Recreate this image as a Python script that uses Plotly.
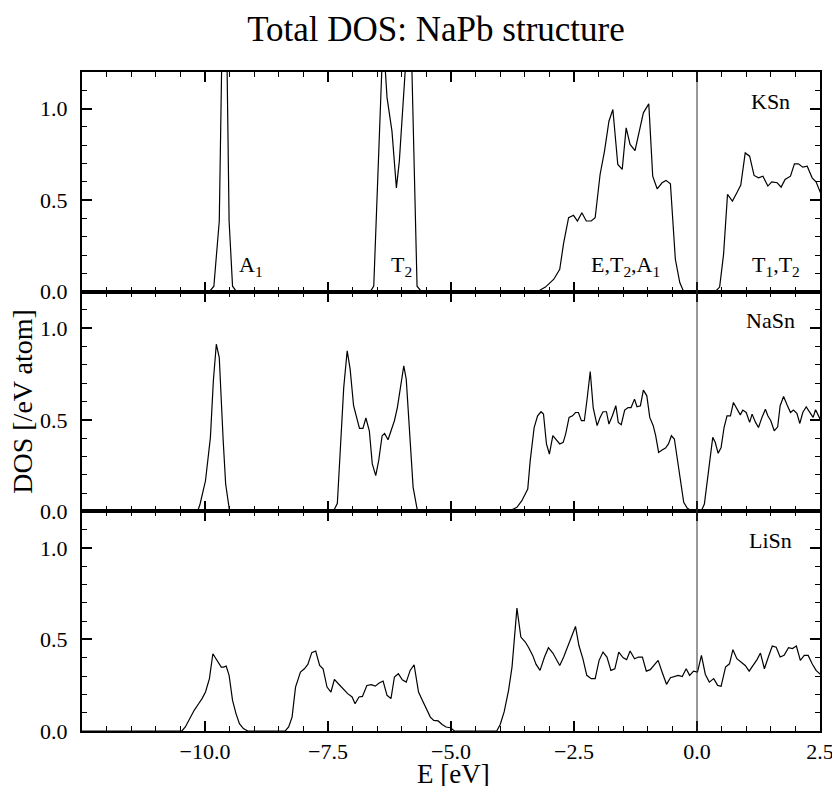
import plotly.graph_objects as go
from plotly.subplots import make_subplots

# ---------------- data ----------------
ksn_e = [-12.5, -9.91, -9.82, -9.71, -9.64, -9.57, -9.51, -9.44, -9.36,
         -6.64, -6.57, -6.38, -6.30, -6.20, -6.11, -6.05, -5.86, -5.82, -5.69, -5.60,
         -3.25, -3.08, -2.91, -2.79, -2.71, -2.61, -2.51, -2.43, -2.34, -2.25, -2.15, -2.07,
         -1.97, -1.88, -1.79, -1.71, -1.61, -1.52, -1.44, -1.36, -1.26, -1.17, -1.09, -0.98,
         -0.90, -0.81, -0.71, -0.63, -0.54, -0.44, -0.35, -0.27,
         0.37, 0.46, 0.54, 0.62, 0.72, 0.81, 0.89, 0.98, 1.07, 1.16, 1.25, 1.34, 1.44, 1.52,
         1.63, 1.71, 1.79, 1.90, 1.98, 2.06, 2.15, 2.24, 2.34, 2.42, 2.51]
ksn_d = [0, 0, 0.03, 0.385, 1.6, 1.6, 0.385, 0.03, 0,
         0, 0.03, 1.4, 1.06, 0.877, 0.567, 0.713, 1.5, 1.5, 0.03, 0,
         0, 0.025, 0.068, 0.122, 0.267, 0.404, 0.417, 0.386, 0.431, 0.386, 0.386, 0.404,
         0.64, 0.768, 0.931, 0.995, 0.695, 0.668, 0.895, 0.804, 0.771, 0.877, 0.977, 1.026,
         0.631, 0.562, 0.595, 0.608, 0.589, 0.177, 0.05, 0,
         0, 0.025, 0.204, 0.531, 0.495, 0.54, 0.582, 0.758, 0.74, 0.635, 0.622, 0.631, 0.577, 0.60,
         0.595, 0.571, 0.613, 0.631, 0.698, 0.698, 0.68, 0.685, 0.622, 0.60, 0.54]

nasn_e = [-12.5, -10.15, -10.10, -9.99, -9.89, -9.83, -9.77, -9.71, -9.63, -9.58, -9.50,
          -7.39, -7.31, -7.18, -7.11, -7.05, -6.98, -6.92, -6.86, -6.79, -6.73, -6.66, -6.60,
          -6.53, -6.47, -6.40, -6.35, -6.28, -6.22, -6.15, -6.09, -6.02, -5.96, -5.91, -5.84,
          -5.77, -5.68,
          -3.83, -3.66, -3.56, -3.44, -3.39, -3.31, -3.24, -3.17, -3.12, -3.06, -3.00, -2.93,
          -2.86, -2.79, -2.72, -2.67, -2.60, -2.53, -2.47, -2.41, -2.35, -2.29, -2.23, -2.17,
          -2.11, -2.03, -1.97, -1.91, -1.84, -1.79, -1.72, -1.65, -1.60, -1.54, -1.47, -1.40,
          -1.34, -1.27, -1.22, -1.15, -1.09, -1.02, -0.96, -0.89, -0.84, -0.78, -0.71, -0.64,
          -0.58, -0.52, -0.46, -0.39, -0.33, -0.27, -0.20, -0.10, 0.0, 0.09, 0.15, 0.24, 0.32,
          0.37, 0.43, 0.49, 0.55, 0.61, 0.68, 0.74, 0.81, 0.88, 0.93, 1.00, 1.07, 1.12, 1.19,
          1.25, 1.32, 1.39, 1.44, 1.50, 1.57, 1.64, 1.69, 1.76, 1.83, 1.90, 1.96, 2.03, 2.09,
          2.15, 2.22, 2.29, 2.36, 2.41, 2.47, 2.51]
nasn_d = [0, 0, 0.04, 0.167, 0.404, 0.713, 0.913, 0.84, 0.386, 0.149, 0,
          0, 0.044, 0.677, 0.877, 0.777, 0.577, 0.517, 0.453, 0.453, 0.51, 0.44, 0.259,
          0.195, 0.277, 0.413, 0.426, 0.391, 0.44, 0.495, 0.567, 0.704, 0.795, 0.722, 0.404,
          0.131, 0,
          0, 0.022, 0.058, 0.122, 0.277, 0.458, 0.522, 0.544, 0.531, 0.368, 0.313, 0.413,
          0.39, 0.368, 0.377, 0.422, 0.513, 0.522, 0.54, 0.54, 0.495, 0.495, 0.622, 0.764,
          0.567, 0.468, 0.513, 0.544, 0.544, 0.477, 0.522, 0.577, 0.486, 0.473, 0.553, 0.567,
          0.567, 0.613, 0.571, 0.577, 0.662, 0.631, 0.513, 0.468, 0.413, 0.322, 0.335, 0.346,
          0.368, 0.413, 0.395, 0.267, 0.131, 0.049, 0.018, 0, 0, 0.004, 0.04, 0.222, 0.404,
          0.377, 0.317, 0.349, 0.458, 0.522, 0.522, 0.595, 0.558, 0.527, 0.553, 0.54, 0.486, 0.531, 0.486,
          0.458, 0.513, 0.558, 0.522, 0.495, 0.44, 0.462, 0.577, 0.627, 0.582, 0.54, 0.553, 0.535, 0.48,
          0.54, 0.571, 0.54, 0.513, 0.555, 0.522, 0.499]

lisn_e = [-12.5, -10.47, -10.40, -10.31, -10.22, -10.13, -10.06, -9.99, -9.91, -9.84, -9.76,
          -9.67, -9.62, -9.57, -9.51, -9.44, -9.37, -9.30, -9.22, -9.13,
          -8.37, -8.30, -8.23, -8.16, -8.06, -7.98, -7.91, -7.83, -7.75, -7.67, -7.60, -7.52,
          -7.44, -7.37, -7.29, -7.20, -7.10, -7.01, -6.95, -6.87, -6.80, -6.71, -6.62, -6.54,
          -6.46, -6.38, -6.30, -6.22, -6.15, -6.07, -5.99, -5.91, -5.83, -5.75, -5.66, -5.58,
          -5.50, -5.42, -5.35, -5.26, -5.18, -5.10, -5.01, -4.93,
          -4.07, -4.00, -3.92, -3.83, -3.76, -3.71, -3.66, -3.58, -3.49, -3.42, -3.34, -3.27,
          -3.19, -3.10, -3.02, -2.93, -2.85, -2.79, -2.71, -2.63, -2.56, -2.47, -2.40, -2.32,
          -2.24, -2.15, -2.07, -1.99, -1.91, -1.83, -1.75, -1.67, -1.59, -1.50, -1.43, -1.36,
          -1.27, -1.19, -1.11, -1.03, -0.95, -0.87, -0.79, -0.71, -0.62, -0.54, -0.46, -0.38,
          -0.30, -0.22, -0.15, -0.07, 0.01, 0.09, 0.17, 0.25, 0.34, 0.42, 0.49, 0.58, 0.66,
          0.73, 0.81, 0.89, 0.98, 1.06, 1.14, 1.22, 1.29, 1.37, 1.45, 1.53, 1.61, 1.69, 1.77,
          1.86, 1.94, 2.02, 2.10, 2.18, 2.26, 2.34, 2.42, 2.51]
lisn_d = [0, 0, 0.022, 0.067, 0.113, 0.149, 0.177, 0.213, 0.286, 0.422, 0.39,
          0.349, 0.349, 0.355, 0.304, 0.167, 0.095, 0.04, 0.013, 0,
          0, 0.022, 0.076, 0.24, 0.322, 0.34, 0.364, 0.428, 0.437, 0.358, 0.34, 0.24,
          0.213, 0.282, 0.258, 0.231, 0.204, 0.186, 0.149, 0.186, 0.189, 0.249, 0.253, 0.245,
          0.262, 0.273, 0.195, 0.177, 0.295, 0.313, 0.28, 0.267, 0.331, 0.362, 0.213, 0.167,
          0.122, 0.076, 0.058, 0.055, 0.036, 0.022, 0.018, 0,
          0, 0.036, 0.104, 0.222, 0.349, 0.513, 0.671, 0.513, 0.486, 0.455, 0.413, 0.364,
          0.331, 0.404, 0.455, 0.426, 0.39, 0.358, 0.404, 0.458, 0.513, 0.571, 0.467, 0.395,
          0.304, 0.286, 0.286, 0.386, 0.431, 0.404, 0.331, 0.34, 0.431, 0.40, 0.39, 0.437,
          0.395, 0.404, 0.404, 0.327, 0.335, 0.358, 0.386, 0.322, 0.255, 0.291, 0.298, 0.304,
          0.298, 0.34, 0.304, 0.327, 0.322, 0.413, 0.309, 0.267, 0.286, 0.249, 0.244, 0.349, 0.367,
          0.444, 0.395, 0.377, 0.358, 0.327, 0.358, 0.39, 0.426, 0.34, 0.404, 0.464, 0.458, 0.404, 0.413,
          0.455, 0.45, 0.464, 0.386, 0.413, 0.413, 0.367, 0.331, 0.309]

panel_names = ["KSn", "NaSn", "LiSn"]
band_labels = ["A<sub>1</sub>", "T<sub>2</sub>", "E,T<sub>2</sub>,A<sub>1</sub>", "T<sub>1</sub>,T<sub>2</sub>"]
band_label_e = [-9.06, -6.0, -1.46, 1.61]
x_major_ticks = [-10.0, -7.5, -5.0, -2.5, 0.0, 2.5]
x_minor_ticks = [v / 2 for v in range(-25, 6)]
y_major_ticks = [0.0, 0.5, 1.0]
y_minor_ticks = [v / 10 for v in range(0, 13)]

FONT = "Liberation Serif"

fig = make_subplots(rows=3, cols=1, shared_xaxes=True, vertical_spacing=0)
for i, (e, d) in enumerate([(ksn_e, ksn_d), (nasn_e, nasn_d), (lisn_e, lisn_d)]):
    fig.add_trace(go.Scatter(x=e, y=d, mode="lines", line=dict(color="black", width=1.2),
                             showlegend=False), row=i + 1, col=1)

for i in range(3):
    fig.update_xaxes(row=i + 1, col=1, range=[-12.5, 2.5], tickmode="array", tickvals=x_major_ticks,
                     tickformat=".1f", ticks="inside", ticklen=10, tickwidth=1.6, tickcolor="black",
                     minor=dict(ticks="inside", tickmode="array", tickvals=x_minor_ticks,
                                ticklen=5, tickwidth=1.2, tickcolor="black"),
                     showline=True, linewidth=2, linecolor="black", mirror="allticks",
                     showgrid=False, zeroline=False, automargin=False, ticklabeloverflow="allow",
                     tickfont=dict(family=FONT, size=22, color="black"))
    fig.update_yaxes(row=i + 1, col=1, range=[0, 1.2], tickmode="array", tickvals=y_major_ticks,
                     tickformat=".1f",
                     ticks="inside", ticklen=10, tickwidth=1.6, tickcolor="black",
                     minor=dict(ticks="inside", tickmode="array", tickvals=y_minor_ticks,
                                ticklen=5, tickwidth=1.2, tickcolor="black"),
                     showline=True, linewidth=2, linecolor="black", mirror="allticks",
                     showgrid=False, zeroline=False, ticklabelstandoff=8, automargin=False,
                     tickfont=dict(family=FONT, size=22, color="black"))

# Fermi level line
fig.add_shape(type="line", xref="x", yref="paper", x0=0, x1=0, y0=0, y1=1,
              line=dict(color="#333333", width=1))

axes_names = ["", "2", "3"]
for i, name in enumerate(panel_names):
    fig.add_annotation(x=1.5, y=1.04, xref="x" + axes_names[i], yref="y" + axes_names[i],
                       text=name, showarrow=False,
                       font=dict(family=FONT, size=22, color="black"))

for lab, e in zip(band_labels, band_label_e):
    fig.add_annotation(x=e, y=0.14, xref="x", yref="y", text=lab, showarrow=False,
                       font=dict(family=FONT, size=22, color="black"))

fig.add_annotation(x=-0.081, y=0.5, xref="paper", yref="paper", text="DOS [/eV atom]",
                   textangle=-90, showarrow=False, xanchor="center", yanchor="middle",
                   font=dict(family=FONT, size=28, color="black"))
fig.add_annotation(x=0.504, y=-0.066, xref="paper", yref="paper", text="E [eV]",
                   showarrow=False, xanchor="center", yanchor="middle",
                   font=dict(family=FONT, size=27, color="black"))

fig.update_layout(
    width=832, height=786,
    margin=dict(l=82, r=12, t=72, b=55),
    paper_bgcolor="white", plot_bgcolor="white",
    title=dict(text="Total DOS: NaPb structure", x=0.524, xanchor="center",
               y=0.963, yanchor="middle",
               font=dict(family=FONT, size=35, color="black")),
)

fig.write_html("out.html")
